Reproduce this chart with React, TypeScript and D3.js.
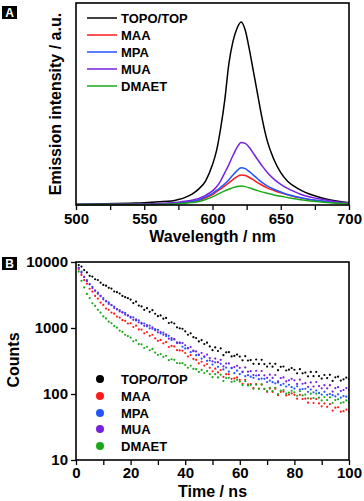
import React, { useEffect, useRef } from 'react';
import * as d3 from 'd3';

// ---- panel A: emission spectra (normalised a.u.) ----
const wavelengths = [500, 520, 540, 550, 560, 570, 575, 580, 585, 590, 595, 600, 603, 606, 609, 612, 615, 618, 621, 624, 627, 630, 633, 636, 640, 645, 650, 655, 660, 665, 670, 676, 684, 692, 700];
const topoEm = [.004, .006, .009, .011, .016, .02, .027, .038, .054, .08, .12, .20, .27, .38, .52, .70, .81, .875, .906, .865, .77, .66, .55, .44, .32, .225, .16, .118, .092, .072, .057, .043, .028, .018, .011];
const maaEm = [.002, .002, .003, .003, .004, .007, .009, .012, .016, .023, .036, .052, .066, .08, .095, .11, .126, .14, .149, .146, .136, .124, .111, .099, .085, .072, .06, .05, .041, .034, .028, .022, .015, .01, .007];
const mpaEm = [.002, .002, .003, .004, .005, .008, .01, .013, .018, .026, .04, .058, .072, .088, .105, .125, .148, .17, .185, .18, .165, .148, .13, .113, .095, .078, .064, .052, .043, .036, .029, .023, .016, .011, .008];
const muaEm = [.002, .003, .004, .005, .007, .011, .014, .018, .024, .033, .048, .07, .09, .12, .16, .2, .245, .285, .31, .305, .285, .255, .225, .197, .162, .128, .102, .082, .066, .052, .042, .033, .023, .015, .01];
const dmaetEm = [.002, .002, .002, .003, .003, .005, .007, .009, .012, .017, .027, .04, .05, .06, .07, .078, .086, .092, .094, .091, .085, .078, .071, .065, .058, .05, .043, .037, .031, .026, .021, .017, .012, .009, .006];

// ---- panel B: decay curves, one value per ns ----
const times = d3.range(0, 101);
const topoDecay = [10000, 8980, 8520, 7545, 6940, 6180, 6020, 5480, 5340, 4860,
  4490, 4375, 4055, 3950, 3570, 3490, 3330, 3065, 2935, 2830,
  2695, 2390, 2505, 2190, 2125, 1885, 1995, 1760, 1865, 1645,
  1510, 1550, 1385, 1420, 1190, 1220, 1170, 1025, 990, 975,
  890, 790, 830, 725, 705, 625, 655, 572, 600, 526,
  462, 508, 448, 490, 388, 428, 430, 371, 378, 395,
  369, 324, 374, 322, 327, 287, 333, 286, 330, 284,
  260, 290, 259, 287, 230, 258, 261, 227, 234, 247,
  233, 206, 238, 206, 211, 185, 216, 186, 216, 187,
  171, 194, 174, 195, 158, 179, 183, 160, 167, 177,
  168];
const maaDecay = [10000, 7700, 6380, 5320, 4680, 3930, 3550, 3060, 2790, 2430,
  2240, 1975, 1885, 1710, 1650, 1490, 1440, 1315, 1285, 1170,
  1180, 1035, 1085, 950, 945, 830, 870, 760, 790, 695,
  640, 660, 585, 610, 515, 535, 525, 462, 458, 452,
  418, 370, 390, 340, 330, 292, 308, 270, 285, 250,
  221, 242, 212, 231, 182, 200, 199, 170, 172, 178,
  164, 143, 164, 140, 141, 123, 141, 121, 139, 119,
  108, 121, 108, 120, 96, 108, 109, 95, 98, 102,
  97, 85, 97, 84, 85, 74, 85, 73, 84, 72,
  65, 72, 64, 70, 56, 62, 63, 54, 55, 58,
  54];
const mpaDecay = [10000, 8100, 7150, 5980, 5300, 4620, 4220, 3690, 3440, 3060,
  2850, 2550, 2440, 2210, 2110, 1930, 1870, 1720, 1690, 1545,
  1430, 1450, 1300, 1310, 1160, 1170, 1060, 1085, 975, 960,
  935, 830, 850, 755, 760, 660, 672, 590, 600, 520,
  490, 498, 430, 446, 388, 392, 344, 365, 318, 322,
  279, 302, 258, 287, 236, 251, 218, 246, 207, 226,
  200, 214, 186, 193, 183, 176, 190, 168, 171, 170,
  152, 160, 151, 145, 150, 136, 143, 130, 138, 127,
  121, 131, 117, 119, 120, 108, 117, 106, 113, 104,
  98, 108, 97, 100, 96, 92, 99, 88, 93, 91,
  85];
const muaDecay = [10000, 8150, 6880, 5940, 5100, 4600, 4030, 3680, 3290, 3050,
  2720, 2540, 2320, 2230, 2010, 1920, 1780, 1730, 1600, 1550,
  1480, 1330, 1350, 1220, 1195, 1080, 1110, 990, 1020, 925,
  860, 870, 790, 800, 690, 700, 680, 605, 595, 590,
  548, 490, 515, 454, 442, 395, 418, 372, 395, 350,
  312, 344, 303, 330, 262, 290, 291, 250, 256, 267,
  249, 219, 253, 218, 222, 194, 225, 193, 223, 192,
  176, 196, 175, 194, 156, 174, 178, 155, 161, 170,
  161, 142, 165, 143, 146, 128, 150, 130, 152, 132,
  122, 136, 122, 136, 109, 123, 127, 111, 115, 123,
  116];
const dmaetDecay = [10000, 7150, 5180, 4120, 3280, 2840, 2370, 2160, 1890, 1715,
  1500, 1395, 1245, 1180, 1070, 1010, 915, 875, 790, 755,
  715, 630, 650, 570, 565, 498, 520, 460, 482, 425,
  390, 402, 366, 380, 325, 336, 330, 295, 292, 293,
  275, 250, 268, 240, 238, 216, 232, 208, 222, 200,
  180, 200, 178, 196, 157, 174, 176, 153, 156, 164,
  154, 136, 156, 134, 137, 120, 139, 120, 140, 120,
  111, 124, 111, 124, 100, 113, 115, 101, 105, 112,
  106, 94, 110, 95, 98, 86, 101, 87, 101, 88,
  80, 90, 81, 89, 73, 81, 83, 73, 75, 80,
  75];

const seriesNames = ['TOPO/TOP', 'MAA', 'MPA', 'MUA', 'DMAET'];
const seriesColors = ['#000000', '#ff1a1a', '#2255ff', '#7620e0', '#1aa81a'];

const emissionTicks = [500, 525, 550, 575, 600, 625, 650, 675, 700];
const timeTicks = [0, 10, 20, 30, 40, 50, 60, 70, 80, 90, 100];
const countTicks = [10, 100, 1000, 10000];

const FONT = 'Arial, "Liberation Sans", Helvetica, sans-serif';

const App = () => {
  const svgRef = useRef(null);

  useEffect(() => {
    const svg = d3.select(svgRef.current);
    svg.selectAll('*').remove();

    const emission = [topoEm, maaEm, mpaEm, muaEm, dmaetEm];
    const decay = [topoDecay, maaDecay, mpaDecay, muaDecay, dmaetDecay];

    const styleText = (sel, size) => sel
      .attr('font-family', FONT)
      .attr('font-weight', 'bold')
      .attr('font-size', size)
      .attr('fill', '#000');

    // panel letter boxes
    const panelTag = (letter, y) => {
      svg.append('rect').attr('x', 2).attr('y', y).attr('width', 15).attr('height', 13).attr('fill', '#000');
      svg.append('text').attr('x', 9.5).attr('y', y + 11).attr('text-anchor', 'middle')
        .text(letter).call(styleText, 12).attr('fill', '#fff');
    };

    // ===== panel A =====
    const a = { left: 76, right: 349, top: 3, bottom: 205 };
    const xA = d3.scaleLinear().domain([500, 700]).range([a.left, a.right]);
    const yA = d3.scaleLinear().domain([0, 1]).range([a.bottom, a.top]);

    const line = d3.line()
      .x((d, i) => xA(wavelengths[i]))
      .y(d => yA(d))
      .curve(d3.curveMonotoneX);

    emission.forEach((vals, k) => {
      svg.append('path')
        .attr('d', line(vals))
        .attr('fill', 'none')
        .attr('stroke', seriesColors[k])
        .attr('stroke-width', 1.5);
    });

    const axA = svg.append('g')
      .attr('transform', `translate(0,${a.bottom})`)
      .call(d3.axisBottom(xA).tickValues(emissionTicks).tickSize(5).tickPadding(3).tickSizeOuter(0)
        .tickFormat(d => (d % 50 === 0 ? String(d) : '')));
    axA.select('.domain').remove();
    axA.selectAll('line').attr('stroke', '#000').attr('stroke-width', 1.3);
    axA.selectAll('text').call(styleText, 15);

    svg.append('rect')
      .attr('x', a.left).attr('y', a.top)
      .attr('width', a.right - a.left).attr('height', a.bottom - a.top)
      .attr('fill', 'none').attr('stroke', '#000').attr('stroke-width', 1.6);

    svg.append('text').attr('x', (a.left + a.right) / 2).attr('y', 242)
      .attr('text-anchor', 'middle').text('Wavelength / nm').call(styleText, 16);
    svg.append('text').attr('transform', `translate(61,${(a.top + a.bottom) / 2}) rotate(-90)`)
      .attr('text-anchor', 'middle').text('Emission intensity / a.u.').call(styleText, 16);

    // legend A
    const legA = [18, 35, 52, 69, 86];
    seriesNames.forEach((name, k) => {
      svg.append('line').attr('x1', 87).attr('x2', 117).attr('y1', legA[k]).attr('y2', legA[k])
        .attr('stroke', seriesColors[k]).attr('stroke-width', 1.5);
      svg.append('text').attr('x', 121).attr('y', legA[k] + 4.7).text(name).call(styleText, 13);
    });

    panelTag('A', 6);

    // ===== panel B =====
    const b = { left: 76, right: 349, top: 262, bottom: 460 };
    const xB = d3.scaleLinear().domain([0, 100]).range([b.left, b.right]);
    const yB = d3.scaleLog().domain([10, 10000]).range([b.bottom, b.top]);

    svg.append('clipPath').attr('id', 'clipB')
      .append('rect').attr('x', b.left).attr('y', b.top)
      .attr('width', b.right - b.left).attr('height', b.bottom - b.top);

    const dots = svg.append('g').attr('clip-path', 'url(#clipB)');
    decay.forEach((vals, k) => {
      dots.selectAll(null)
        .data(vals)
        .enter().append('circle')
        .attr('cx', (d, i) => xB(times[i]))
        .attr('cy', d => yB(d))
        .attr('r', 1.1)
        .attr('fill', seriesColors[k]);
    });

    const axBx = svg.append('g')
      .attr('transform', `translate(0,${b.bottom})`)
      .call(d3.axisBottom(xB).tickValues(timeTicks).tickSize(5).tickPadding(2).tickSizeOuter(0)
        .tickFormat(d => (d % 20 === 0 ? String(d) : '')));
    axBx.select('.domain').remove();
    axBx.selectAll('line').attr('stroke', '#000').attr('stroke-width', 1.3);
    axBx.selectAll('text').call(styleText, 15);

    const axBy = svg.append('g')
      .attr('transform', `translate(${b.left},0)`)
      .call(d3.axisLeft(yB).tickValues(countTicks).tickSize(5).tickPadding(3).tickSizeOuter(0)
        .tickFormat(d3.format('d')));
    axBy.select('.domain').remove();
    axBy.selectAll('line').attr('stroke', '#000').attr('stroke-width', 1.3);
    axBy.selectAll('text').call(styleText, 15);

    svg.append('rect')
      .attr('x', b.left).attr('y', b.top)
      .attr('width', b.right - b.left).attr('height', b.bottom - b.top)
      .attr('fill', 'none').attr('stroke', '#000').attr('stroke-width', 1.6);

    svg.append('text').attr('x', (b.left + b.right) / 2).attr('y', 497)
      .attr('text-anchor', 'middle').text('Time / ns').call(styleText, 16);
    svg.append('text').attr('transform', `translate(19,360) rotate(-90)`)
      .attr('text-anchor', 'middle').text('Counts').call(styleText, 16);

    // legend B
    const legB = [379, 396, 413, 429, 446];
    seriesNames.forEach((name, k) => {
      svg.append('circle').attr('cx', 100).attr('cy', legB[k]).attr('r', 4).attr('fill', seriesColors[k]);
      svg.append('text').attr('x', 121).attr('y', legB[k] + 4.7).text(name).call(styleText, 13);
    });

    panelTag('B', 257);
  }, []);

  return (
    <svg
      ref={svgRef}
      width={364}
      height={501}
      style={{ position: 'absolute', left: 0, top: 0, background: '#fff' }}
    />
  );
};

export default App;
